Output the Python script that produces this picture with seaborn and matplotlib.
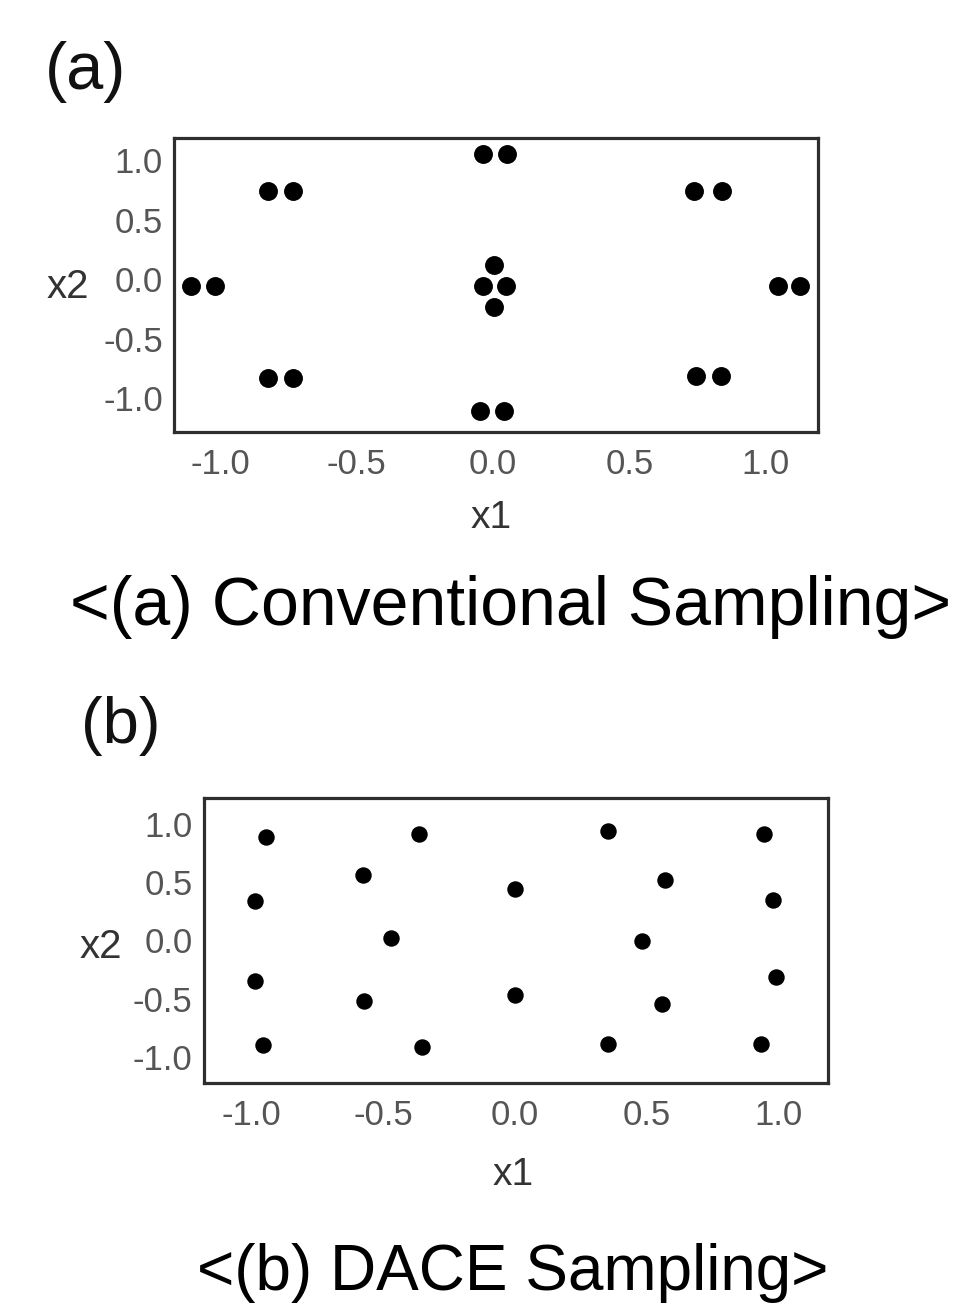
import matplotlib
matplotlib.use("Agg")
import matplotlib.pyplot as plt
import seaborn as sns
import pandas as pd

# ── Data ─────────────────────────────────────────────────────────────────────
# (a) conventional sampling: paired / clustered design points
conv_x1 = [-1.108, -1.020, -0.825, -0.734, -0.825, -0.734,
           -0.037, 0.051, -0.048, 0.040,
           -0.037, 0.048, 0.004, 0.004,
           0.737, 0.840, 0.745, 0.836, 1.045, 1.126]
conv_x2 = [-0.06, -0.06, 0.74, 0.74, -0.83, -0.83,
           1.05, 1.05, -1.11, -1.11,
           -0.06, -0.06, 0.118, -0.235,
           0.74, 0.74, -0.815, -0.815, -0.06, -0.06]

# (b) DACE sampling: space-filling points
dace_x1 = [-0.942, -0.363, -0.575, -0.986, -0.470, -0.986, -0.572, -0.957, -0.352,
           0.353, 0.944, 0.000, 0.570, 0.978, 0.484, 0.000, 0.991, 0.560, 0.353, 0.934]
dace_x2 = [0.886, 0.915, 0.564, 0.338, 0.021, -0.349, -0.518, -0.897, -0.912,
           0.938, 0.909, 0.438, 0.515, 0.344, -0.004, -0.469, -0.318, -0.546, -0.889, -0.891]

tick_vals   = [-1.0, -0.5, 0.0, 0.5, 1.0]
tick_labels = ["-1.0", "-0.5", "0.0", "0.5", "1.0"]

panel_tags = ["(a)", "(b)"]
captions   = ["<(a) Conventional Sampling>", "<(b) DACE Sampling>"]

df_conv = pd.DataFrame({"x1": conv_x1, "x2": conv_x2})
df_dace = pd.DataFrame({"x1": dace_x1, "x2": dace_x2})

# ── Style ────────────────────────────────────────────────────────────────────
sns.set_style("white")
plt.rcParams["font.family"] = ["Liberation Sans", "DejaVu Sans"]

fig = plt.figure(figsize=(9.61, 13.06), dpi=100)

panels = [
    # data, axes rect, xlim, ylim, marker size
    (df_conv, [0.181, 0.669, 0.670, 0.225], (-1.17, 1.19), (-1.286, 1.185), 185),
    (df_dace, [0.212, 0.171, 0.650, 0.218], (-1.18, 1.19), (-1.22, 1.22), 140),
]
label_pos = [
    # x2 label (axes coords), x1 label (axes coords)
    ((-0.165, 0.493), (0.492, -0.232)),
    ((-0.165, 0.477), (0.495, -0.262)),
]

for (data, rect, xlim, ylim, msize), (ylab, xlab) in zip(panels, label_pos):
    ax = fig.add_axes(rect)
    sns.scatterplot(data=data, x="x1", y="x2", ax=ax, color="black",
                    s=msize, linewidth=0, legend=False)
    ax.set_xlim(*xlim)
    ax.set_ylim(*ylim)
    ax.set_xticks(tick_vals)
    ax.set_xticklabels(tick_labels)
    ax.set_yticks(tick_vals)
    ax.set_yticklabels(tick_labels)
    ax.tick_params(axis="x", length=0, pad=11.5, labelsize=25, labelcolor="#555555")
    ax.tick_params(axis="y", length=0, pad=8, labelsize=25, labelcolor="#555555")
    for sp in ax.spines.values():
        sp.set_visible(True)
        sp.set_color("#2e2e2e")
        sp.set_linewidth(2.3)
    ax.set_xlabel("x1", fontsize=28, color="#333333")
    ax.set_ylabel("x2", fontsize=29, color="#333333", rotation=0,
                  ha="center", va="center")
    ax.xaxis.set_label_coords(*xlab)
    ax.yaxis.set_label_coords(*ylab)

# panel tags and captions
fig.text(0.047, 0.932, panel_tags[0], fontsize=48, color="#111111", ha="left", va="baseline")
fig.text(0.084, 0.431, panel_tags[1], fontsize=47, color="#111111", ha="left", va="baseline")
fig.text(0.531, 0.5214, captions[0], fontsize=49, color="black", ha="center", va="baseline")
fig.text(0.534, 0.0123, captions[1], fontsize=46, color="black", ha="center", va="baseline")

plt.savefig("out.png", dpi=100)
plt.close()
